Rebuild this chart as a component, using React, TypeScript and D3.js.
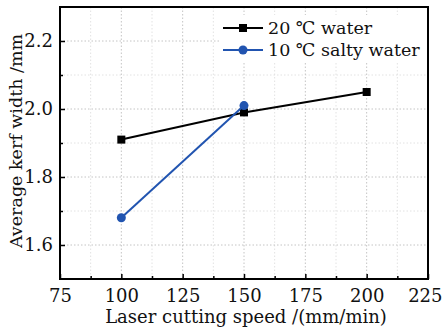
import React, { useEffect, useRef } from 'react';
import * as d3 from 'd3';

const speeds = [100, 150, 200];
const water20 = [1.91, 1.99, 2.05];
const speedsSalty = [100, 150];
const salty10 = [1.68, 2.01];
const xTicks = [75, 100, 125, 150, 175, 200, 225];
const yTicks = [1.6, 1.8, 2.0, 2.2];
const xMinor = [87.5, 112.5, 137.5, 162.5, 187.5, 212.5];
const yMinor = [1.7, 1.9, 2.1];

const FONT = '"DejaVu Serif", "Liberation Serif", serif';

export default function App() {
    const svgRef = useRef<SVGSVGElement>(null);

    useEffect(() => {
        document.body.style.margin = '0';
        const svg = d3.select(svgRef.current);
        svg.selectAll('*').remove();

        const W = 443, H = 334;
        const margin = { top: 7, right: 15, bottom: 55, left: 60 };
        const width = W - margin.left - margin.right;
        const height = H - margin.top - margin.bottom;

        svg.append('rect').attr('width', W).attr('height', H).attr('fill', '#fff');
        const g = svg.append('g').attr('transform', `translate(${margin.left},${margin.top})`);

        const x = d3.scaleLinear().domain([75, 225]).range([0, width]);
        const y = d3.scaleLinear().domain([1.5, 2.3]).range([height, 0]);

        // grid lines, minor ones lighter
        xMinor.forEach(v => g.append('line').attr('x1', x(v)).attr('x2', x(v)).attr('y1', 0).attr('y2', height)
            .attr('stroke', '#e2e2e2').attr('stroke-dasharray', '1.5,2'));
        yMinor.forEach(v => g.append('line').attr('y1', y(v)).attr('y2', y(v)).attr('x1', 0).attr('x2', width)
            .attr('stroke', '#e2e2e2').attr('stroke-dasharray', '1.5,2'));
        xTicks.slice(1, -1).forEach(v => g.append('line').attr('x1', x(v)).attr('x2', x(v)).attr('y1', 0).attr('y2', height)
            .attr('stroke', '#c4c4c4').attr('stroke-dasharray', '1.5,2'));
        yTicks.forEach(v => g.append('line').attr('y1', y(v)).attr('y2', y(v)).attr('x1', 0).attr('x2', width)
            .attr('stroke', '#c4c4c4').attr('stroke-dasharray', '1.5,2'));

        // legend background
        g.append('rect').attr('x', 160).attr('y', 8).attr('width', 207).attr('height', 48).attr('fill', '#fff');

        const line = d3.line<[number, number]>().x(d => x(d[0])).y(d => y(d[1]));
        const blackPts: [number, number][] = speeds.map((s, i) => [s, water20[i]]);
        const bluePts: [number, number][] = speedsSalty.map((s, i) => [s, salty10[i]]);

        g.append('path').datum(blackPts).attr('d', line).attr('fill', 'none').attr('stroke', '#000').attr('stroke-width', 2);
        g.selectAll('.sq').data(blackPts).join('rect')
            .attr('x', d => x(d[0]) - 4).attr('y', d => y(d[1]) - 4)
            .attr('width', 8).attr('height', 8).attr('fill', '#000');
        g.append('path').datum(bluePts).attr('d', line).attr('fill', 'none').attr('stroke', '#2154b0').attr('stroke-width', 2);
        g.selectAll('.ci').data(bluePts).join('circle')
            .attr('cx', d => x(d[0])).attr('cy', d => y(d[1])).attr('r', 4.5).attr('fill', '#2154b0');

        // axes (ticks inward)
        const xAxis = g.append('g').attr('transform', `translate(0,${height})`)
            .call(d3.axisBottom(x).tickValues(xTicks).tickSize(-5).tickPadding(10).tickFormat(d3.format('d')));
        g.append('g').attr('transform', `translate(0,${height})`)
            .call(d3.axisBottom(x).tickValues(xMinor).tickSize(-3).tickFormat(() => ''))
            .call(a => a.select('.domain').remove());
        const yAxis = g.append('g')
            .call(d3.axisLeft(y).tickValues(yTicks).tickSize(-5).tickPadding(7).tickFormat(d3.format('.1f')));
        g.append('g')
            .call(d3.axisLeft(y).tickValues(yMinor).tickSize(-3).tickFormat(() => ''))
            .call(a => a.select('.domain').remove());
        [xAxis, yAxis].forEach(a => {
            a.select('.domain').remove();
            a.selectAll('text').attr('font-family', FONT).attr('font-size', 18).attr('fill', '#111');
        });
        // last x label sits at the window edge
        xAxis.selectAll<SVGTextElement, number>('text').filter(d => d === 225).attr('text-anchor', 'end').attr('dx', 14);
        g.selectAll('.tick line').attr('stroke', '#000').attr('stroke-width', 1.5);

        // frame
        g.append('rect').attr('width', width).attr('height', height).attr('fill', 'none')
            .attr('stroke', '#000').attr('stroke-width', 2);

        // axis titles
        svg.append('text').attr('x', margin.left + width / 2 + 2).attr('y', H - 11)
            .attr('text-anchor', 'middle').attr('font-family', FONT).attr('font-size', 18).attr('fill', '#111')
            .text('Laser cutting speed /(mm/min)');
        svg.append('text').attr('transform', `translate(22,${margin.top + height / 2 - 2}) rotate(-90)`)
            .attr('text-anchor', 'middle').attr('font-family', FONT).attr('font-size', 17.5).attr('fill', '#111')
            .text('Average kerf width /mm');

        // legend
        const legendItems = [
            { label: '20 ℃ water', color: '#000', shape: 'square' },
            { label: '10 ℃ salty water', color: '#2154b0', shape: 'circle' }
        ];
        legendItems.forEach((item, i) => {
            const row = g.append('g').attr('transform', `translate(163,${21 + i * 22})`);
            row.append('line').attr('x1', 0).attr('x2', 40).attr('stroke', item.color).attr('stroke-width', 2);
            if (item.shape === 'square') {
                row.append('rect').attr('x', 16).attr('y', -4).attr('width', 8).attr('height', 8).attr('fill', item.color);
            } else {
                row.append('circle').attr('cx', 20).attr('r', 4.5).attr('fill', item.color);
            }
            row.append('text').attr('x', 45).attr('y', 0).attr('dy', '0.35em')
                .attr('font-family', FONT).attr('font-size', 17.5).attr('fill', '#111').text(item.label);
        });
    }, []);

    return <svg ref={svgRef} width={443} height={334} style={{ display: 'block' }}></svg>;
}
